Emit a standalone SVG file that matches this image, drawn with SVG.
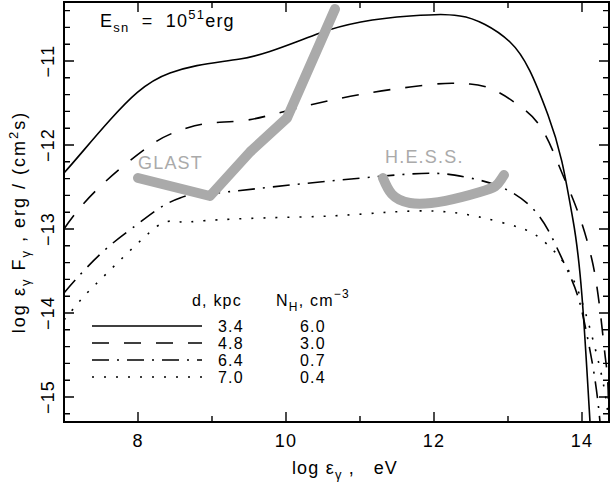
<svg xmlns="http://www.w3.org/2000/svg" width="613" height="484" viewBox="0 0 613 484">
<style>
text{font-family:"Liberation Sans",Arial,sans-serif;font-size:18px;letter-spacing:1.2px;fill:#000}
#legend text{font-size:16px}
.c{fill:none;stroke:#000;stroke-width:1.6;stroke-linejoin:round}
.d{stroke-dasharray:17 15}
.dd{stroke-dasharray:17 8 2 8}
.dt{stroke-dasharray:2 10}
.g{fill:none;stroke:#aaa;stroke-width:10;stroke-linecap:round;stroke-linejoin:round}
.gt{fill:#aaa}
.ax{fill:none;stroke:#000;stroke-width:2}
.tk{stroke:#000;stroke-width:1.4}
</style>
<rect width="613" height="484" fill="#fff"/>
<g id="axes">
<rect class="ax" x="64" y="2" width="545" height="420"/>
<g class="tk">
<path d="M138 422v-10M212 422v-6M286 422v-10M360 422v-6M434 422v-10M508 422v-6M582 422v-10M138 2v10M212 2v6M286 2v10M360 2v6M434 2v10M508 2v6M582 2v10"/>
<path d="M64 10.6h6M64 27.4h6M64 44.2h6M64 61h10M64 77.8h6M64 94.6h6M64 111.4h6M64 128.2h6M64 145h10M64 161.8h6M64 178.6h6M64 195.4h6M64 212.2h6M64 229h10M64 245.8h6M64 262.6h6M64 279.4h6M64 296.2h6M64 313h10M64 329.8h6M64 346.6h6M64 363.4h6M64 380.2h6M64 397h10M64 413.8h6"/>
<path d="M609 10.6h-6M609 27.4h-6M609 44.2h-6M609 61h-10M609 77.8h-6M609 94.6h-6M609 111.4h-6M609 128.2h-6M609 145h-10M609 161.8h-6M609 178.6h-6M609 195.4h-6M609 212.2h-6M609 229h-10M609 245.8h-6M609 262.6h-6M609 279.4h-6M609 296.2h-6M609 313h-10M609 329.8h-6M609 346.6h-6M609 363.4h-6M609 380.2h-6M609 397h-10M609 413.8h-6"/>
</g>
<g text-anchor="middle">
<text x="138" y="447">8</text><text x="286" y="447">10</text><text x="434" y="447">12</text><text x="582" y="447">14</text>
<text transform="translate(54 61) rotate(-90)">−11</text>
<text transform="translate(54 145) rotate(-90)">−12</text>
<text transform="translate(54 229) rotate(-90)">−13</text>
<text transform="translate(54 313) rotate(-90)">−14</text>
<text transform="translate(54 397) rotate(-90)">−15</text>
<text x="345" y="474" xml:space="preserve">log ε<tspan font-size="13" dy="5">γ</tspan><tspan dy="-5"> ,   eV</tspan></text>
<text transform="translate(25 222) rotate(-90)" style="letter-spacing:2px" xml:space="preserve">log ε<tspan font-size="13" dy="5">γ</tspan><tspan dy="-5"> F</tspan><tspan font-size="13" dy="5">γ</tspan><tspan dy="-5"> , erg / (cm</tspan><tspan font-size="13" dy="-7">2</tspan><tspan dy="7">s)</tspan></text>
</g>
<text x="100" y="27" xml:space="preserve">E<tspan font-size="13" dy="5">sn</tspan><tspan dy="-5">  =  10</tspan><tspan font-size="13" dy="-8">51</tspan><tspan dy="8">erg</tspan></text>
</g>
<g id="connectors">
<path class="c" d="M64 173C80 155 92 140 110 120S145 82 170 73S215 63 240 59S290 44 320 33S380 18 410 16S445 14 460 16S495 28 510 42S535 80 548 115S565 175 573 220S584 320 590 422"/>
<path class="c d" d="M64 229C80 205 100 185 127 163S165 135 187 128S220 123 240 121S280 112 310 105S370 92 410 87S450 83 470 84S505 95 525 110S552 150 565 180S585 230 592 260S603 340 606 363S608 400 609 420"/>
<path class="c dd" d="M64 293C85 268 105 248 127 232S160 205 180 198S200 194 215 193S260 188 300 184S380 176 410 174S450 174 470 178S510 188 528 204S553 240 565 265S580 300 587 335S597 390 600 422"/>
<path class="c dt" d="M64 320C75 307 80 300 90 290S130 250 150 232S175 224 190 222S250 218 300 217S380 212 413 211S470 214 500 222S535 232 553 250S580 290 593 340S605 395 609 420"/>
</g>
<g id="glast">
<path class="g" d="M138 178L210 196L250 152L287 118L335 9"/>
<text class="gt" x="138" y="169">GLAST</text>
</g>
<g id="hess">
<path class="g" d="M383 178C388 190 392 200 410 203S460 198 480 192S497 185 504 175"/>
<text class="gt" x="385" y="163">H.E.S.S.</text>
</g>
<g id="legend">
<text x="192" y="306">d, kpc</text>
<text x="276" y="306">N<tspan font-size="12" dy="5">H</tspan><tspan dy="-5">, cm</tspan><tspan font-size="12" dy="-8">−3</tspan></text>
<path class="c" d="M92 326H202"/>
<path class="c d" d="M92 343H202"/>
<path class="c dd" d="M92 360H202"/>
<path class="c dt" d="M92 377H202"/>
<text x="218" y="332">3.4</text><text x="300" y="332">6.0</text>
<text x="218" y="349">4.8</text><text x="300" y="349">3.0</text>
<text x="218" y="366">6.4</text><text x="300" y="366">0.7</text>
<text x="218" y="383">7.0</text><text x="300" y="383">0.4</text>
</g>
</svg>
